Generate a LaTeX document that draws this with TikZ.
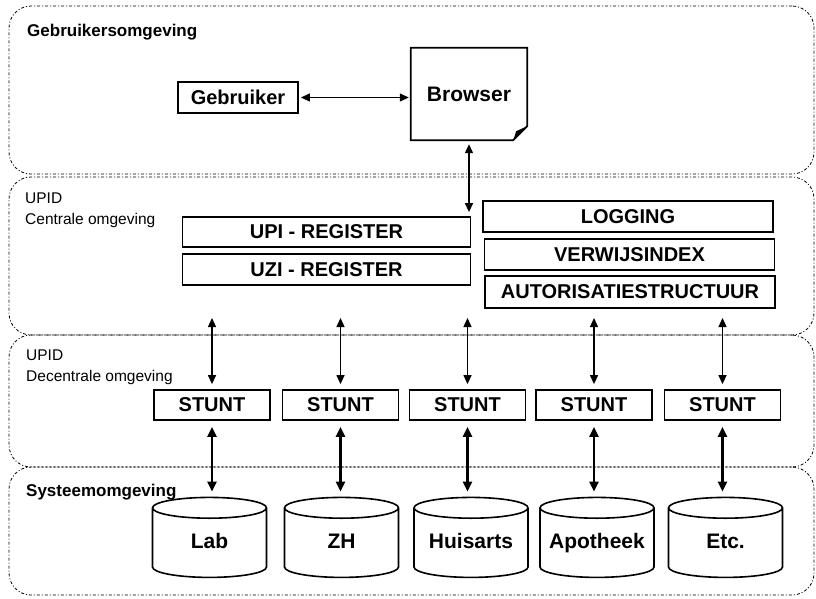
\documentclass[tikz,border=0pt]{standalone}
\usepackage{fontspec}
\setmainfont{Liberation Sans}
\usetikzlibrary{shapes.geometric,arrows.meta}

\tikzset{
  zone/.style={draw, line width=0.8pt, rounded corners=22pt,
    dash pattern=on 3pt off 2pt on 1pt off 2pt, inner sep=0},
  zonetitle/.style={anchor=west, inner sep=0, font=\fontsize{17}{20}\selectfont\bfseries},
  zonesub/.style={anchor=west, inner sep=0, font=\fontsize{15.5}{18}\selectfont},
  blok/.style={draw, line width=1.8pt, inner sep=0, minimum height=30,
    font=\fontsize{20}{24}\selectfont\bfseries},
  stunt/.style={blok, minimum width=116},
  reg/.style={blok, minimum width=288},
  db/.style={cylinder, shape border rotate=90, aspect=0.2, draw, line width=1.6pt,
    minimum width=114, minimum height=80, inner sep=0, text width=104, align=center,
    text height=15, text depth=4, font=\fontsize{21}{24}\selectfont\bfseries},
  link/.style={{Triangle[length=9pt,width=8pt]}-{Triangle[length=9pt,width=8pt]},
    line width=1.3pt},
  dik/.style={{Triangle[length=10pt,width=9pt]}-{Triangle[length=10pt,width=9pt]},
    line width=2.4pt}
}

\begin{document}
\begin{tikzpicture}[x=1pt,y=-1pt]
\useasboundingbox (0,0) rectangle (816,598);

% omgevingen
\node[zone, minimum width=805, minimum height=168] (zgeb) at (411.5,90) {};
\node[zone, minimum width=805, minimum height=158] (zcen) at (411.5,256) {};
\node[zone, minimum width=805, minimum height=132] (zdec) at (411.5,401) {};
\node[zone, minimum width=805, minimum height=128] (zsys) at (411.5,531) {};

\node[zonetitle] (tgeb) at (27,32) {Gebruikersomgeving};
\node[zonesub] (tcen1) at (25,198) {UPID};
\node[zonesub] (tcen2) at (25,220) {Centrale omgeving};
\node[zonesub] (tdec1) at (26,355) {UPID};
\node[zonesub] (tdec2) at (26,377) {Decentrale omgeving};
\node[zonetitle] (tsys) at (26,492) {Systeemomgeving};

% gebruiker en browser
\node[blok, minimum width=120, minimum height=31] (geb) at (238,97.5) {Gebruiker};
\node[inner sep=0, minimum width=116, minimum height=92,
  font=\fontsize{21}{24}\selectfont\bfseries] (br) at (469,94) {Browser};
\draw[line width=1.8pt] (br.north west) -- (br.north east) -- ([yshift=14]br.south east)
  -- ([xshift=-14]br.south east) -- (br.south west) -- cycle;
\fill ([yshift=14]br.south east) -- ([xshift=-14]br.south east)
  -- ([xshift=-11,yshift=9]br.south east) -- cycle;
\draw[link, shorten <=2pt, shorten >=2pt] (geb.east) -- (geb.east -| br.west);

% centrale omgeving
\node[reg] (upi) at (326.5,232) {UPI - REGISTER};
\node[reg, minimum height=31] (uzi) at (326.5,269.5) {UZI - REGISTER};
\node[reg, minimum width=290, minimum height=31] (log) at (628,216.5) {LOGGING};
\node[reg, minimum width=290, minimum height=31] (ver) at (629.5,254.5) {VERWIJSINDEX};
\node[reg, minimum width=290, minimum height=32] (aut) at (630,292) {AUTORISATIESTRUCTUUR};
\draw[link, shorten <=4pt, shorten >=4pt] (br.south) -- (br.south |- upi.north);

% decentrale omgeving
\node[stunt] (st1) at (212,405) {STUNT};
\node[stunt] (st2) at (340.5,405) {STUNT};
\node[stunt] (st3) at (467.5,405) {STUNT};
\node[stunt] (st4) at (594,405) {STUNT};
\node[stunt] (st5) at (722.5,405) {STUNT};

% systemen
\node[db] (sys1) at (209.5,543) {Lab};
\node[db] (sys2) at (341.5,543) {ZH};
\node[db] (sys3) at (471,543) {Huisarts};
\node[db] (sys4) at (597,543) {Apotheek};
\node[db] (sys5) at (725.5,543) {Etc.};

\foreach \i in {1,...,5} {
  \coordinate (k\i) at (st\i |- 0,318);
  \draw[link, shorten >=5pt] (k\i) -- (st\i.north);
  \draw[dik, shorten <=6pt, shorten >=5pt] (st\i.south) -- (st\i.south |- sys\i.north);
}
\end{tikzpicture}
\end{document}
